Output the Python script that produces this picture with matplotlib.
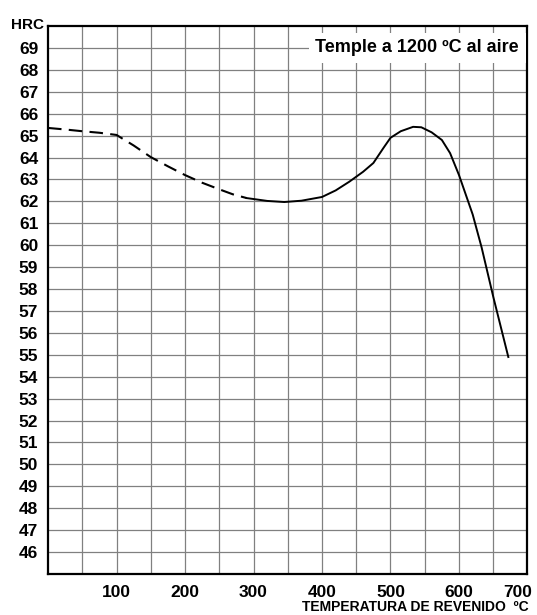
import matplotlib
matplotlib.use("Agg")
import matplotlib.pyplot as plt
import matplotlib.transforms as mtransforms

# hardness after tempering
temp_dashed = [0, 25, 50, 75, 100, 125, 150, 175, 200, 225, 250, 270, 290]
hrc_dashed = [65.35, 65.28, 65.2, 65.13, 65.03, 64.55, 64.02, 63.6, 63.2, 62.85, 62.55, 62.32, 62.15]
temp_solid = [290, 320, 345, 370, 400, 420, 440, 460, 475, 490, 500, 515, 533, 545, 560, 575, 587, 600, 620, 633, 650, 672]
hrc_solid = [62.15, 62.02, 61.97, 62.03, 62.2, 62.5, 62.9, 63.35, 63.75, 64.45, 64.9, 65.2, 65.4, 65.38, 65.15, 64.8, 64.2, 63.2, 61.4, 59.9, 57.65, 54.9]

yticks = list(range(46, 70))
xticks = [100, 200, 300, 400, 500, 600, 700]

fig = plt.figure(figsize=(5.37, 6.15), dpi=100)
ax = fig.add_axes([0.0894, 0.0667, 0.8929, 0.8910])

ax.plot(temp_dashed, hrc_dashed, color="black", lw=1.5, dashes=(6.5, 3.5))
ax.plot(temp_solid, hrc_solid, color="black", lw=1.4)

ax.set_xlim(0, 700)
ax.set_ylim(45, 70)

# grid: every 50 C and every 1 HRC
for xv in range(50, 700, 50):
    ax.axvline(xv, color="#808080", lw=0.9, zorder=0)
for yv in yticks:
    ax.axhline(yv, color="#808080", lw=0.9, zorder=0)

ax.set_yticks(yticks)
ax.set_yticklabels([str(v) for v in yticks], fontsize=12.5, fontweight="bold",
                   family="Liberation Sans")
ax.set_xticks(xticks)
ax.set_xticklabels([str(v) for v in xticks], fontsize=12.5, fontweight="bold",
                   family="Liberation Sans")
ax.tick_params(axis="both", length=0)
ax.tick_params(axis="y", pad=7)
ax.tick_params(axis="x", pad=8)

# last x label sits a bit to the left, as in the original
lab = ax.get_xticklabels()[-1]
lab.set_transform(lab.get_transform() + mtransforms.ScaledTranslation(-10 / 100, 0, fig.dpi_scale_trans))

for s in ax.spines.values():
    s.set_linewidth(1.6)
    s.set_color("black")

fig.text(0.052, 0.960, "HRC", fontsize=11, fontweight="bold",
         family="Liberation Sans", ha="center", va="center")

ax.text(539, 69, "Temple a 1200 ºC al aire", fontsize=13, fontweight="bold",
        family="Liberation Sans", ha="center", va="center",
        bbox=dict(facecolor="white", edgecolor="none", pad=5))

fig.text(0.985, 0.006, "TEMPERATURA DE REVENIDO  ºC", fontsize=10,
         fontweight="bold", family="Liberation Sans",
         ha="right", va="baseline")

fig.savefig("out.png", dpi=100)
